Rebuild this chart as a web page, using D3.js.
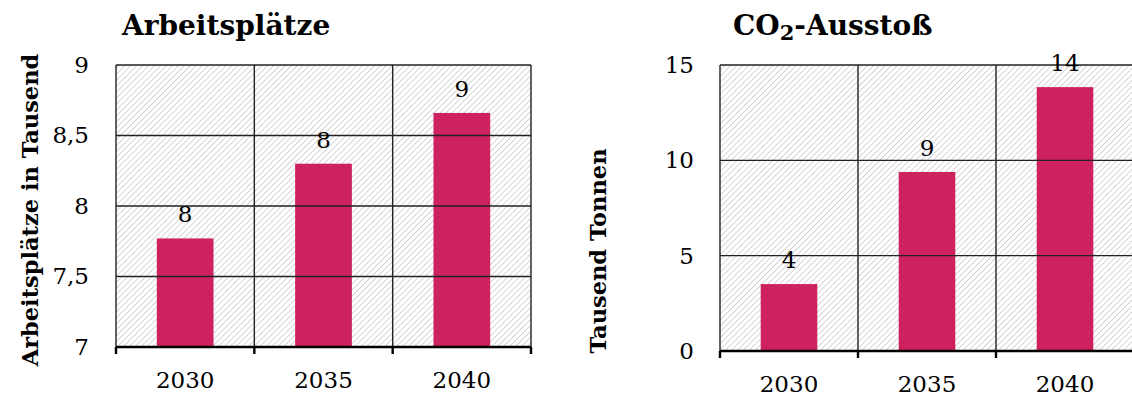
<!DOCTYPE html>
<html>
<head>
<meta charset="utf-8">
<script src="https://cdn.jsdelivr.net/npm/d3@7"></script>
<style>
  html, body { margin: 0; padding: 0; background: #fff; }
  svg { display: block; }
  text { font-family: "DejaVu Serif", "Liberation Serif", serif; fill: #000; }
</style>
</head>
<body>
<svg id="chart" width="1132" height="398"></svg>
<script>
// Years shown on both charts
const years = ["2030", "2035", "2040"];

// Jobs (thousands) per year
const jobs = [7.77, 8.30, 8.66];
const jobsTicks = [7, 7.5, 8, 8.5, 9];

// CO2 emissions (thousand tonnes) per year
const co2 = [3.51, 9.39, 13.84];
const co2Ticks = [0, 5, 10, 15];

const de = d3.formatLocale({ decimal: ",", thousands: ".", grouping: [3], currency: ["", " €"] });
const tickFmt = de.format("~g");
const labelFmt = de.format(".0f");

const svg = d3.select("#chart");
const BAR_COLOR = "#cd2160";

// Diagonal hatch used as the plot-area background
const defs = svg.append("defs");
const pat = defs.append("pattern")
  .attr("id", "hatch")
  .attr("patternUnits", "userSpaceOnUse")
  .attr("width", 4.2)
  .attr("height", 4.2)
  .attr("patternTransform", "rotate(45)");
pat.append("rect").attr("width", 4.2).attr("height", 4.2).attr("fill", "#fff");
pat.append("line")
  .attr("x1", 0).attr("y1", 0).attr("x2", 0).attr("y2", 4.2)
  .attr("stroke", "#c2c2c2").attr("stroke-width", 1.35);

function drawChart(cfg) {
  const g = svg.append("g");
  const { left, right, top, bottom } = cfg.box;

  const x = d3.scaleBand().domain(years).range([left, right]).padding(0);
  const y = d3.scaleLinear().domain(cfg.domain).range([bottom, top]);

  // plot background
  g.append("rect")
    .attr("x", left).attr("y", top)
    .attr("width", right - left).attr("height", bottom - top)
    .attr("fill", "url(#hatch)");

  // bars
  const barW = x.bandwidth() * 0.41;
  g.selectAll("rect.bar").data(cfg.values).enter().append("rect")
    .attr("class", "bar")
    .attr("x", (d, i) => x(years[i]) + (x.bandwidth() - barW) / 2)
    .attr("y", d => y(d))
    .attr("width", barW)
    .attr("height", d => y(cfg.domain[0]) - y(d))
    .attr("fill", BAR_COLOR);

  // horizontal gridlines
  g.selectAll("line.hgrid").data(cfg.ticks.filter(t => t !== cfg.domain[0])).enter()
    .append("line")
    .attr("x1", left).attr("x2", right)
    .attr("y1", d => y(d)).attr("y2", d => y(d))
    .attr("stroke", "#222").attr("stroke-width", 1.4);

  // vertical gridlines at category boundaries
  const bounds = years.map(d => x(d)).concat([x.range()[1]]);
  g.selectAll("line.vgrid").data(bounds).enter()
    .append("line")
    .attr("x1", d => d).attr("x2", d => d)
    .attr("y1", top).attr("y2", bottom)
    .attr("stroke", "#222").attr("stroke-width", 1.4);

  // value labels
  g.selectAll("text.val").data(cfg.values).enter().append("text")
    .attr("class", "val")
    .attr("x", (d, i) => x(years[i]) + x.bandwidth() / 2)
    .attr("y", d => y(d) - 16)
    .attr("text-anchor", "middle")
    .style("font-size", "23px")
    .text(d => labelFmt(d));

  // x axis line with boundary ticks
  g.append("line")
    .attr("x1", left).attr("x2", right)
    .attr("y1", bottom).attr("y2", bottom)
    .attr("stroke", "#000").attr("stroke-width", 2.4);
  g.selectAll("line.xtick").data(bounds).enter()
    .append("line")
    .attr("x1", d => d).attr("x2", d => d)
    .attr("y1", bottom).attr("y2", bottom + 7)
    .attr("stroke", "#000").attr("stroke-width", 2.4);

  // x labels
  const xAxis = g.append("g")
    .attr("transform", `translate(0,${bottom})`)
    .call(d3.axisBottom(x).tickSize(0).tickPadding(cfg.xPad));
  xAxis.select(".domain").remove();
  xAxis.selectAll("text")
    .style("font-family", '"DejaVu Serif", serif')
    .style("font-size", "23px").attr("fill", "#000");

  // y labels
  const yAxis = g.append("g")
    .attr("transform", `translate(${left},0)`)
    .call(d3.axisLeft(y).tickValues(cfg.ticks).tickSize(0).tickPadding(cfg.yPad).tickFormat(tickFmt));
  yAxis.select(".domain").remove();
  yAxis.selectAll("text")
    .style("font-family", '"DejaVu Serif", serif')
    .style("font-size", "23px").attr("fill", "#000");

  // axis title
  g.append("text")
    .attr("transform", `translate(${cfg.yTitlePos[0]},${cfg.yTitlePos[1]}) rotate(-90)`)
    .attr("text-anchor", "middle")
    .attr("dominant-baseline", "central")
    .style("font-size", "22.5px")
    .style("font-weight", "bold")
    .text(cfg.yTitle);

  // chart title
  const t = g.append("text")
    .attr("x", cfg.titlePos[0]).attr("y", cfg.titlePos[1])
    .style("font-size", "28px")
    .style("font-weight", "bold");
  cfg.title.forEach(part => {
    t.append("tspan")
      .attr("dy", part.dy || 0)
      .style("font-size", part.size || null)
      .text(part.text);
  });
}

drawChart({
  box: { left: 116, right: 531, top: 65, bottom: 347 },
  domain: [7, 9],
  ticks: jobsTicks,
  values: jobs,
  xPad: 25,
  yPad: 27,
  yTitle: "Arbeitsplätze in Tausend",
  yTitlePos: [30, 210],
  title: [{ text: "Arbeitsplätze" }],
  titlePos: [122, 35]
});

drawChart({
  box: { left: 720, right: 1134, top: 65, bottom: 351 },
  domain: [0, 15],
  ticks: co2Ticks,
  values: co2,
  xPad: 25,
  yPad: 26,
  yTitle: "Tausend Tonnen",
  yTitlePos: [598, 251],
  title: [{ text: "CO" }, { text: "2", dy: 5, size: "21px" }, { text: "-Ausstoß", dy: -5 }],
  titlePos: [733, 35]
});
</script>
</body>
</html>
